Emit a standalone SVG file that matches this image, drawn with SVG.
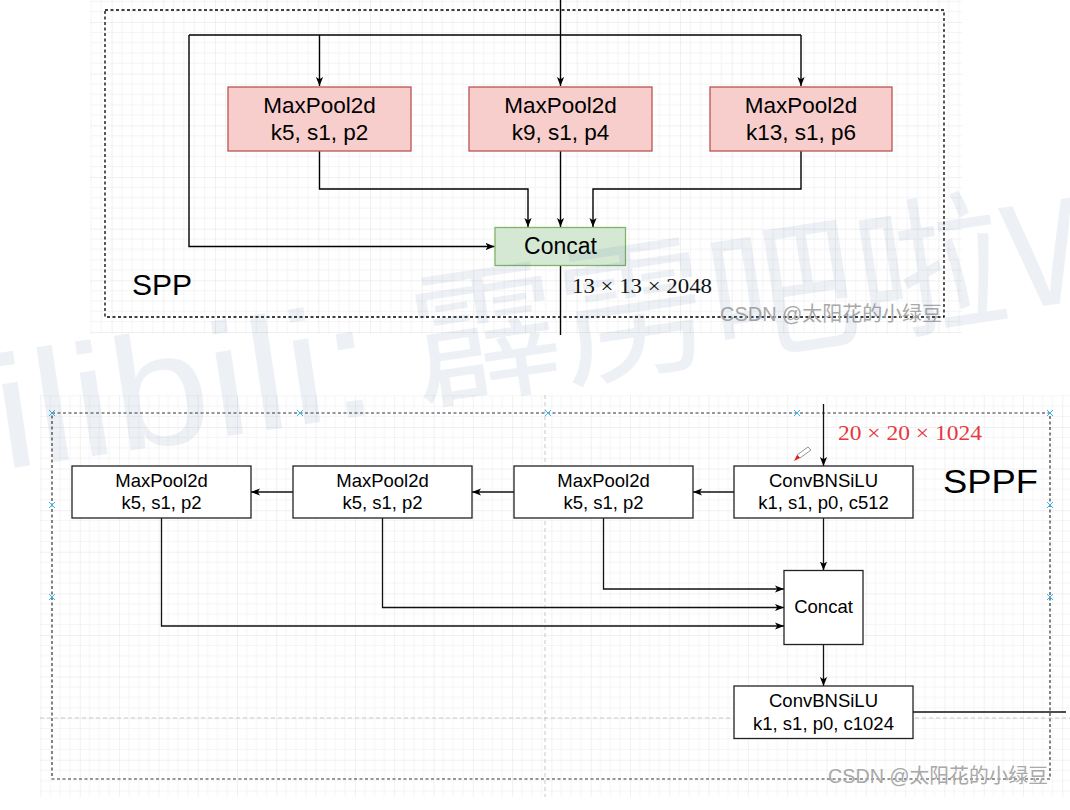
<svg xmlns="http://www.w3.org/2000/svg" width="1070" height="810" viewBox="0 0 1070 810">
  <style>
    .lbl { font-family: "Liberation Sans", Arial, sans-serif; fill: #000; text-anchor: middle; }
    .big { font-family: "Liberation Sans", Arial, sans-serif; fill: #000; }
    .math { font-family: "Liberation Serif", "Times New Roman", serif; }
    .wire { fill: none; stroke: #000; stroke-width: 1.4; }
    .wire2 { fill: none; stroke: #111; stroke-width: 1.3; }
    .pool { fill: #f8cecc; stroke: #b85450; stroke-width: 1.3; }
    .cat { fill: #d5e8d4; stroke: #82b366; stroke-width: 1.3; }
    .plain { fill: #fff; stroke: #222; stroke-width: 1.3; }
    .mark { stroke: #38b4e8; stroke-width: 1; }
    .wm { font-family: "Liberation Sans", Arial, "Noto Sans CJK SC", sans-serif; fill: #a9a9a9; }
  </style>
  <defs>
    <marker id="arr" viewBox="0 0 10 10" refX="10" refY="5" markerWidth="9" markerHeight="9" markerUnits="userSpaceOnUse" orient="auto">
      <path d="M0,1 L10,5 L0,9 L2.5,5 z" fill="#000"/>
    </marker>
    <pattern id="gridTop" x="163.3" y="22" width="51.67" height="51.67" patternUnits="userSpaceOnUse">
      <path d="M10.33,0 V51.67 M20.67,0 V51.67 M31,0 V51.67 M41.33,0 V51.67 M0,10.33 H51.67 M0,20.67 H51.67 M0,31 H51.67 M0,41.33 H51.67" stroke="#f4f4f4" stroke-width="1"/>
      <path d="M0,0 V51.67 M0,0 H51.67" stroke="#e2e2e2" stroke-width="1"/>
    </pattern>
    <pattern id="gridBot" x="40.5" y="385.4" width="39.3" height="41.6" patternUnits="userSpaceOnUse">
      <path d="M9.8,0 V41.6 M19.65,0 V41.6 M29.5,0 V41.6 M0,10.4 H39.3 M0,20.8 H39.3 M0,31.2 H39.3" stroke="#f5f5f5" stroke-width="1"/>
      <path d="M0,0 V41.6 M0,0 H39.3" stroke="#e3e3e3" stroke-width="1"/>
    </pattern>
  </defs>

  <rect width="1070" height="810" fill="#fff"/>

  <!-- canvas grids -->
  <rect x="90" y="0" width="872" height="334" fill="url(#gridTop)"/>
  <rect x="40" y="395" width="1030" height="402" fill="url(#gridBot)"/>
  <!-- page break lines -->
  <path d="M40,718 H1070 M545,395 V797" stroke="#c8c8c8" stroke-width="1" stroke-dasharray="4,3" fill="none"/>

  <!-- SPP frame -->
  <g id="spp-frame">
    <rect x="105" y="10" width="839" height="307" fill="none" stroke="#000" stroke-width="1.3" stroke-dasharray="3,2.5"/>
    <text class="big" x="132" y="295" font-size="30">SPP</text>
  </g>

  <!-- SPPF frame -->
  <g id="sppf-frame">
    <rect x="52" y="413" width="998" height="366" fill="none" stroke="#333" stroke-width="1.2" stroke-dasharray="3,2.5"/>
    <text class="big" x="943" y="493" font-size="34" textLength="95" lengthAdjust="spacingAndGlyphs">SPPF</text>
    <g class="mark">
      <path d="M49,410 l6,6 M55,410 l-6,6"/>
      <path d="M297,410 l6,6 M303,410 l-6,6"/>
      <path d="M545,410 l6,6 M551,410 l-6,6"/>
      <path d="M794,410 l6,6 M800,410 l-6,6"/>
      <path d="M1047,410 l6,6 M1053,410 l-6,6"/>
      <path d="M49,502 l6,6 M55,502 l-6,6"/>
      <path d="M49,594 l6,6 M55,594 l-6,6"/>
      <path d="M1047,502 l6,6 M1053,502 l-6,6"/>
      <path d="M1047,594 l6,6 M1053,594 l-6,6"/>
    </g>
  </g>

  <!-- connectors -->
  <g id="connectors">
    <!-- SPP -->
    <path class="wire" d="M560.5,0 V86"  marker-end="url(#arr)"/>
    <path class="wire" d="M189,35 H801"/>
    <path class="wire" d="M319.5,35 V86" marker-end="url(#arr)"/>
    <path class="wire" d="M801,35 V86" marker-end="url(#arr)"/>
    <path class="wire" d="M189,35 V246.5 H494.5" marker-end="url(#arr)"/>
    <path class="wire" d="M319.5,151 V189 H528 V227" marker-end="url(#arr)"/>
    <path class="wire" d="M560.5,151 V227" marker-end="url(#arr)"/>
    <path class="wire" d="M801,151 V189 H593 V227" marker-end="url(#arr)"/>
    <path class="wire" d="M560.5,266 V335"/>
    <!-- SPPF -->
    <path class="wire2" d="M823.5,404 V466" marker-end="url(#arr)"/>
    <path class="wire2" d="M734,492 H693" marker-end="url(#arr)"/>
    <path class="wire2" d="M514,492 H472" marker-end="url(#arr)"/>
    <path class="wire2" d="M293,492 H251" marker-end="url(#arr)"/>
    <path class="wire2" d="M823.5,518 V570.5" marker-end="url(#arr)"/>
    <path class="wire2" d="M603.5,518 V589 H784" marker-end="url(#arr)"/>
    <path class="wire2" d="M382.5,518 V607.5 H784" marker-end="url(#arr)"/>
    <path class="wire2" d="M161.5,518 V626 H784" marker-end="url(#arr)"/>
    <path class="wire2" d="M823.5,644 V686" marker-end="url(#arr)"/>
    <path class="wire2" d="M913,712 H1066"/>
  </g>

  <!-- SPP nodes -->
  <g id="spp-pool-k5">
    <rect class="pool" x="228" y="87" width="183" height="64"/>
    <text class="lbl" x="319.5" y="113" font-size="22.5">MaxPool2d</text>
    <text class="lbl" x="319.5" y="140" font-size="22.5">k5, s1, p2</text>
  </g>
  <g id="spp-pool-k9">
    <rect class="pool" x="469" y="87" width="183" height="64"/>
    <text class="lbl" x="560.5" y="113" font-size="22.5">MaxPool2d</text>
    <text class="lbl" x="560.5" y="140" font-size="22.5">k9, s1, p4</text>
  </g>
  <g id="spp-pool-k13">
    <rect class="pool" x="710" y="87" width="182" height="64"/>
    <text class="lbl" x="801" y="113" font-size="22.5">MaxPool2d</text>
    <text class="lbl" x="801" y="140" font-size="22.5">k13, s1, p6</text>
  </g>
  <g id="spp-concat">
    <rect class="cat" x="495" y="227.5" width="130.5" height="38"/>
    <text class="lbl" x="560.5" y="254" font-size="23">Concat</text>
  </g>
  <text class="math" x="572" y="293" font-size="20" fill="#111" textLength="140" lengthAdjust="spacingAndGlyphs">13 × 13 × 2048</text>

  <!-- SPPF nodes -->
  <g id="sppf-conv1">
    <rect class="plain" x="734" y="466" width="179" height="52"/>
    <text class="lbl" x="823.5" y="487" font-size="18.5">ConvBNSiLU</text>
    <text class="lbl" x="823.5" y="509" font-size="18.5">k1, s1, p0, c512</text>
  </g>
  <g id="sppf-pool-a">
    <rect class="plain" x="514" y="466" width="179" height="52"/>
    <text class="lbl" x="603.5" y="487" font-size="18.5">MaxPool2d</text>
    <text class="lbl" x="603.5" y="509" font-size="18.5">k5, s1, p2</text>
  </g>
  <g id="sppf-pool-b">
    <rect class="plain" x="293" y="466" width="179" height="52"/>
    <text class="lbl" x="382.5" y="487" font-size="18.5">MaxPool2d</text>
    <text class="lbl" x="382.5" y="509" font-size="18.5">k5, s1, p2</text>
  </g>
  <g id="sppf-pool-c">
    <rect class="plain" x="72" y="466" width="179" height="52"/>
    <text class="lbl" x="161.5" y="487" font-size="18.5">MaxPool2d</text>
    <text class="lbl" x="161.5" y="509" font-size="18.5">k5, s1, p2</text>
  </g>
  <g id="sppf-concat">
    <rect class="plain" x="784" y="570.5" width="79" height="74"/>
    <text class="lbl" x="823.5" y="613" font-size="18.5">Concat</text>
  </g>
  <g id="sppf-conv2">
    <rect class="plain" x="734" y="686" width="179" height="52.5"/>
    <text class="lbl" x="823.5" y="707" font-size="18.5">ConvBNSiLU</text>
    <text class="lbl" x="823.5" y="729.5" font-size="18.5">k1, s1, p0, c1024</text>
  </g>
  <text class="math" x="838" y="440" font-size="21" fill="#e6393f" textLength="144" lengthAdjust="spacingAndGlyphs">20 × 20 × 1024</text>

  <!-- pen cursor -->
  <g id="pen-cursor">
    <path d="M811,450 L800,458 L797,455 L808,447 z" fill="#fff" stroke="#777" stroke-width="0.8"/>
    <path d="M797,455 L800,458 L794,461 z" fill="#e02020"/>
  </g>

  <!-- overlay marks -->
  <text class="wm" x="720" y="321" font-size="20" textLength="222" lengthAdjust="spacingAndGlyphs">CSDN @太阳花的小绿豆</text>
  <text class="wm" x="828" y="783" font-size="20" textLength="220" lengthAdjust="spacingAndGlyphs">CSDN @太阳花的小绿豆</text>
  <g transform="translate(0,470) rotate(-8.5)" fill="#2a5d9c" fill-opacity="0.085" font-family="'Liberation Sans', 'Noto Sans CJK SC', sans-serif">
    <text x="-95" y="0" font-size="160" textLength="480" lengthAdjust="spacingAndGlyphs">bilibili:</text>
    <text x="425" y="-8" font-size="150">霹雳吧啦Wz</text>
  </g>
</svg>
